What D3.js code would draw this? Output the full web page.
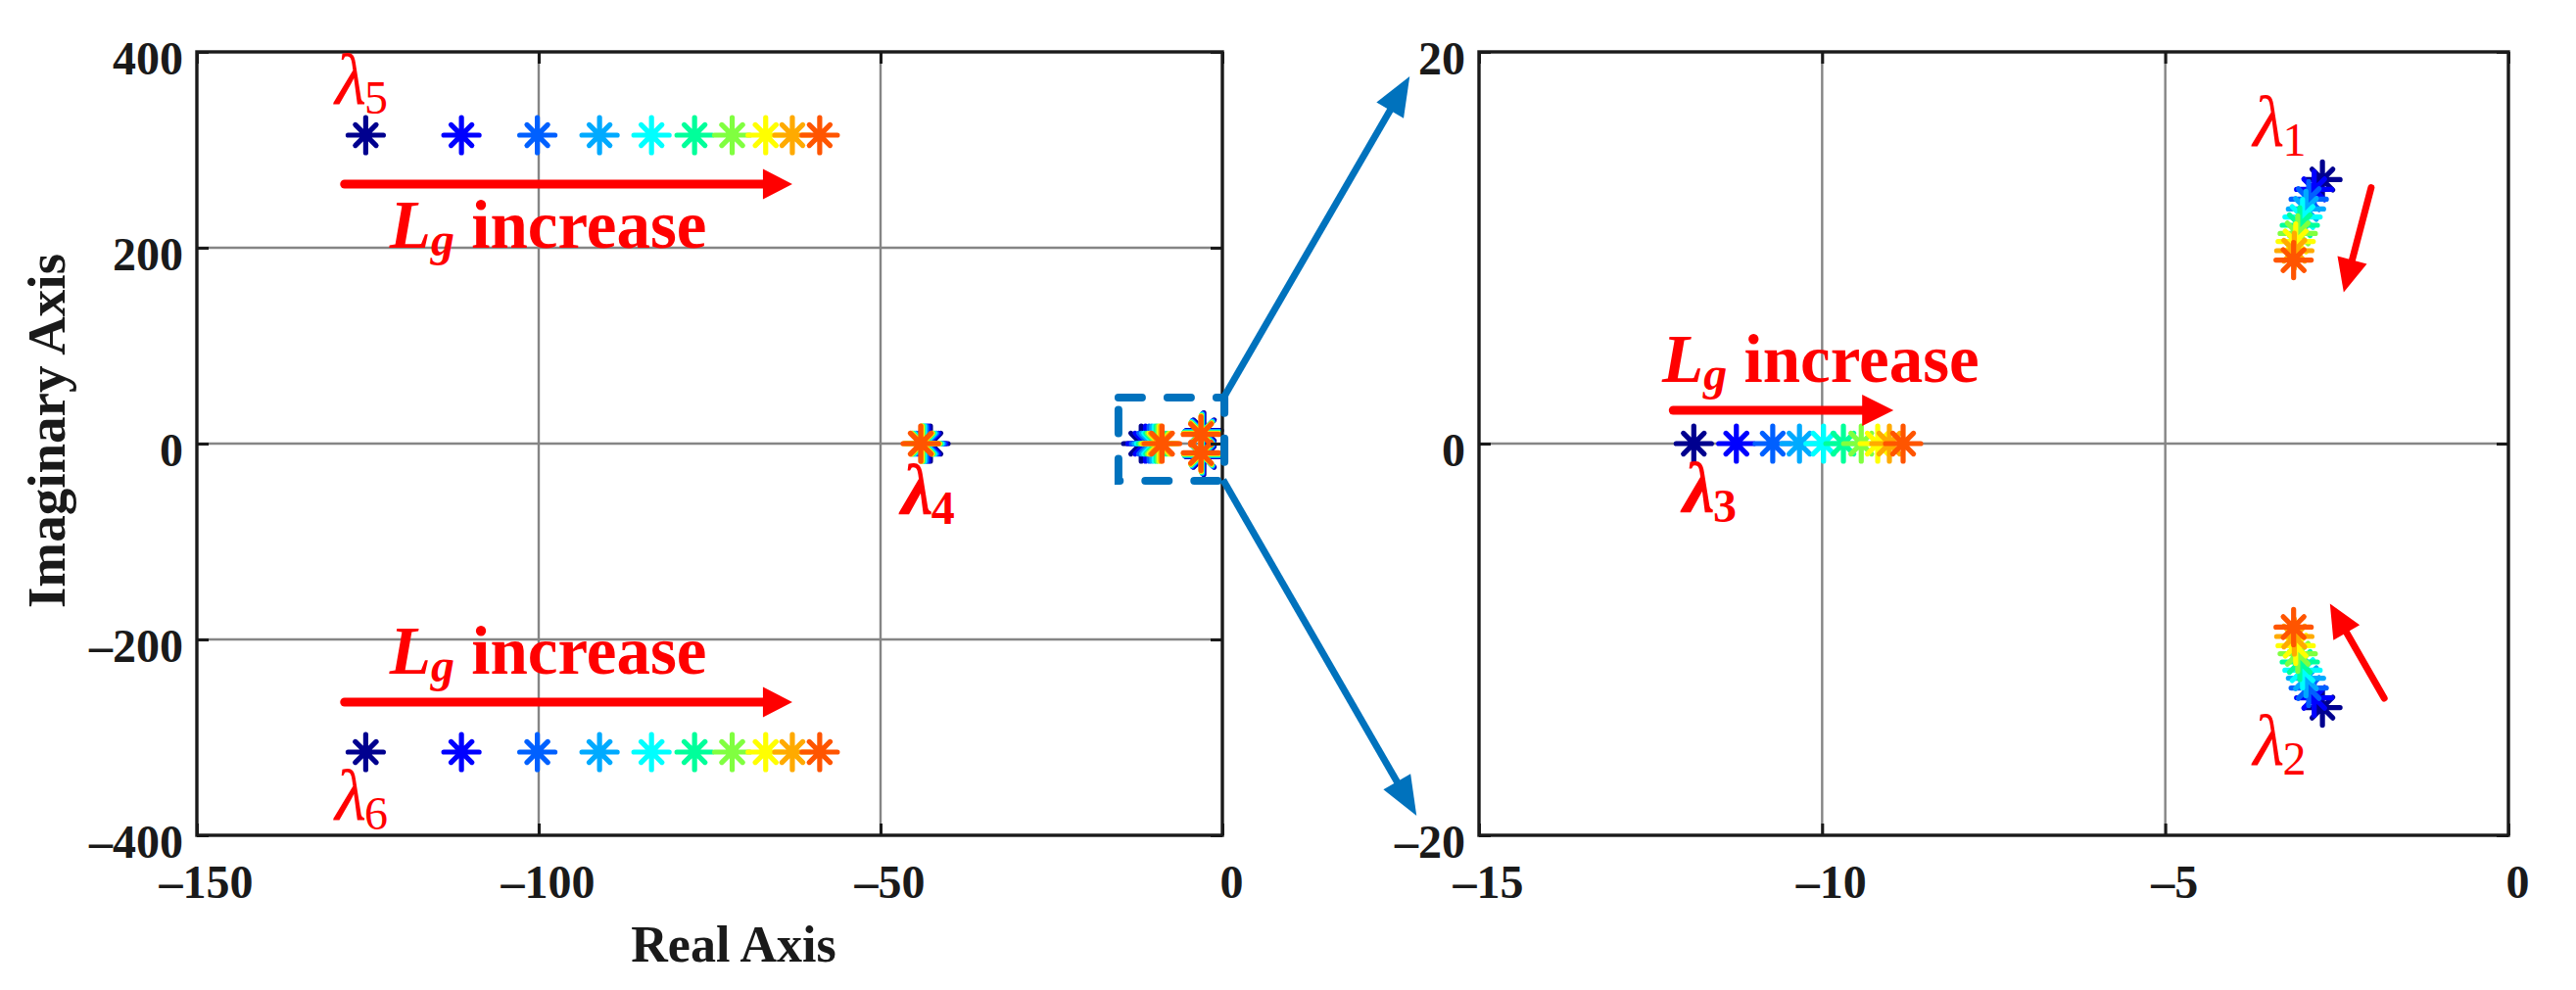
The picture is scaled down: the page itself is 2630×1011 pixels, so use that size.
<!DOCTYPE html>
<html>
<head>
<meta charset="utf-8">
<script src="https://cdn.jsdelivr.net/npm/d3@7"></script>
<style>
  html, body { margin: 0; padding: 0; background: #fff; }
  svg { display: block; }
</style>
</head>
<body>
<script>
// ---------------- DATA ----------------
// 10 increasing values of Lg, one colour each (jet-like map)
const stepColors = ["#00008f", "#0000ff", "#0060ff", "#00aaff", "#00ffff",
                    "#00ff9a", "#80ff40", "#ffff00", "#ffaa00", "#ff5500"];

// eigenvalue trajectories (real, imaginary)
const lambda1Re = [-2.71, -2.83, -2.91, -2.95, -3.00, -3.04, -3.07, -3.10, -3.12, -3.13];
const lambda1Im = [13.48, 12.98, 12.48, 11.98, 11.57, 11.15, 10.73, 10.32, 9.85, 9.37];
const lambda2Re = [-2.71, -2.83, -2.91, -2.95, -3.00, -3.04, -3.07, -3.10, -3.12, -3.13];
const lambda2Im = [-13.48, -12.98, -12.48, -11.98, -11.57, -11.15, -10.73, -10.32, -9.85, -9.37];
const lambda3Re = [-11.87, -11.25, -10.72, -10.33, -9.98, -9.69, -9.43, -9.19, -9.02, -8.82];
const lambda3Im = [0, 0, 0, 0, 0, 0, 0, 0, 0, 0];
const lambda4Re = [-42.7, -43.0, -43.25, -43.45, -43.6, -43.75, -43.85, -43.95, -44.05, -44.13];
const lambda4Im = [0, 0, 0, 0, 0, 0, 0, 0, 0, 0];
const lambda5Re = [-125.3, -111.3, -100.2, -91.1, -83.5, -77.2, -71.7, -66.8, -62.9, -58.9];
const lambda5Im = [315, 315, 315, 315, 315, 315, 315, 315, 315, 315];
const lambda6Re = [-125.3, -111.3, -100.2, -91.1, -83.5, -77.2, -71.7, -66.8, -62.9, -58.9];
const lambda6Im = [-315, -315, -315, -315, -315, -315, -315, -315, -315, -315];

// axis ticks
const leftXTicks = [-150, -100, -50, 0];
const leftYTicks = [-400, -200, 0, 200, 400];
const rightXTicks = [-15, -10, -5, 0];
const rightYTicks = [-20, 0, 20];

const xLabel = "Real Axis";
const yLabel = "Imaginary Axis";

// ---------------- LAYOUT ----------------
const W = 2630, H = 1011;
const SERIF = "'Liberation Serif','Times New Roman',Times,serif";
const plotTop = 53, plotBottom = 853;

const xL = d3.scaleLinear().domain([-150, 0]).range([201, 1248]);
const yL = d3.scaleLinear().domain([-400, 400]).range([plotBottom, plotTop]);
const xR = d3.scaleLinear().domain([-15, 0]).range([1510, 2561]);
const yR = d3.scaleLinear().domain([-20, 20]).range([plotBottom, plotTop]);

const svg = d3.select("body").append("svg")
  .attr("width", W).attr("height", H)
  .attr("viewBox", `0 0 ${W} ${H}`);
svg.append("rect").attr("width", W).attr("height", H).attr("fill", "#fff");

const series = [
  {re: lambda1Re, im: lambda1Im},
  {re: lambda2Re, im: lambda2Im},
  {re: lambda3Re, im: lambda3Im},
  {re: lambda4Re, im: lambda4Im},
  {re: lambda5Re, im: lambda5Im},
  {re: lambda6Re, im: lambda6Im}
];
// flatten: draw each Lg step in order so later steps sit on top
const points = [];
for (let k = 0; k < stepColors.length; k++) {
  series.forEach(s => points.push({re: s.re[k], im: s.im[k], c: stepColors[k]}));
}

const fmt = d => d < 0 ? "\u2013" + Math.abs(d) : String(d);
const star = "M-18,0H18M0,-18V18M-10.6,-10.6L10.6,10.6M-10.6,10.6L10.6,-10.6";

function panel(x, y, xt, yt) {
  const g = svg.append("g");
  const [x0, x1] = x.range();
  const y0 = y.range()[1], y1 = y.range()[0];
  // grid
  g.append("g").selectAll("line").data(xt.filter(t => t !== x.domain()[0] && t !== x.domain()[1]))
    .join("line").attr("x1", d => x(d)).attr("x2", d => x(d)).attr("y1", y0).attr("y2", y1)
    .attr("stroke", "#858585").attr("stroke-width", 2.4);
  g.append("g").selectAll("line").data(yt.filter(t => t !== y.domain()[0] && t !== y.domain()[1]))
    .join("line").attr("y1", d => y(d)).attr("y2", d => y(d)).attr("x1", x0).attr("x2", x1)
    .attr("stroke", "#858585").attr("stroke-width", 2.4);

  // markers
  const [dx0, dx1] = x.domain(), [dy0, dy1] = y.domain();
  g.append("g").selectAll("path")
    .data(points.filter(p => p.re >= dx0 && p.re <= dx1 && p.im >= dy0 && p.im <= dy1))
    .join("path")
    .attr("d", star)
    .attr("transform", p => `translate(${x(p.re)},${y(p.im)})`)
    .attr("fill", "none").attr("stroke", p => p.c)
    .attr("stroke-width", 5.2).attr("stroke-linecap", "round");

  // axes (inward ticks)
  const styleAxis = sel => {
    sel.select(".domain").remove();
    sel.selectAll(".tick line").attr("stroke", "#1a1a1a").attr("stroke-width", 3);
    sel.selectAll("text").attr("font-family", SERIF).attr("font-weight", "bold")
      .attr("font-size", 48).attr("fill", "#1a1a1a");
  };
  g.append("g").attr("transform", `translate(0,${y1})`)
    .call(d3.axisBottom(x).tickValues(xt).tickSize(-12).tickFormat(fmt))
    .call(styleAxis)
    .call(s => s.selectAll("text").attr("y", 64).attr("dy", 0).attr("dx", 9));
  g.append("g").attr("transform", `translate(0,${y0})`)
    .call(d3.axisTop(x).tickValues(xt).tickSize(-12).tickFormat(""))
    .call(styleAxis);
  g.append("g").attr("transform", `translate(${x0},0)`)
    .call(d3.axisLeft(y).tickValues(yt).tickSize(-12).tickPadding(14).tickFormat(fmt))
    .call(styleAxis)
    .call(s => s.selectAll("text").attr("dy", 22));
  g.append("g").attr("transform", `translate(${x1},0)`)
    .call(d3.axisRight(y).tickValues(yt).tickSize(-12).tickFormat(""))
    .call(styleAxis);

  // frame
  g.append("rect").attr("x", x0).attr("y", y0).attr("width", x1 - x0).attr("height", y1 - y0)
    .attr("fill", "none").attr("stroke", "#1a1a1a").attr("stroke-width", 3.4);
  return g;
}

panel(xL, yL, leftXTicks, leftYTicks);
panel(xR, yR, rightXTicks, rightYTicks);

// axis labels (left panel only)
svg.append("text").attr("x", 749).attr("y", 982).attr("text-anchor", "middle")
  .attr("font-family", SERIF).attr("font-weight", "bold").attr("font-size", 52)
  .attr("fill", "#1a1a1a").text(xLabel);
svg.append("text").attr("transform", "translate(66,440) rotate(-90)").attr("text-anchor", "middle")
  .attr("font-family", SERIF).attr("font-weight", "bold").attr("font-size", 55)
  .attr("fill", "#1a1a1a").text(yLabel);

// ---------------- ANNOTATIONS ----------------
const ann = svg.append("g");

function arrow(px1, py1, px2, py2, w, hl, hw, color, cap) {
  const dx = px2 - px1, dy = py2 - py1, L = Math.hypot(dx, dy);
  const ux = dx / L, uy = dy / L, nx = -uy, ny = ux;
  const bx = px2 - ux * hl, by = py2 - uy * hl;
  ann.append("line").attr("x1", px1).attr("y1", py1)
    .attr("x2", bx + ux * 2).attr("y2", by + uy * 2)
    .attr("stroke", color).attr("stroke-width", w).attr("stroke-linecap", cap || "round");
  ann.append("path")
    .attr("d", `M${px2},${py2}L${bx + nx * hw / 2},${by + ny * hw / 2}L${bx - nx * hw / 2},${by - ny * hw / 2}Z`)
    .attr("fill", color);
}

function lgText(px, py) {
  const t = ann.append("text").attr("x", px).attr("y", py)
    .attr("font-family", SERIF).attr("font-weight", "bold").attr("font-size", 69).attr("fill", "#ff0000");
  t.append("tspan").attr("font-style", "italic").text("L");
  t.append("tspan").attr("font-style", "italic").attr("font-size", 48).attr("dy", 8).text("g");
  t.append("tspan").attr("dy", -8).text(" increase");
}

function lamText(px, py, sub, bold) {
  const t = ann.append("text").attr("x", px).attr("y", py)
    .attr("font-family", SERIF).attr("font-weight", bold ? "bold" : "normal")
    .attr("font-size", 74).attr("fill", "#ff0000");
  t.append("tspan").attr("font-style", "italic").text("\u03bb");
  t.append("tspan").attr("font-size", 48).attr("dy", 10).attr("dx", -2).text(sub);
}

// left panel
arrow(xL(-128.4), yL(265), xL(-62.9), yL(265), 9, 30, 31, "#ff0000");
arrow(xL(-128.4), yL(-264), xL(-62.9), yL(-264), 9, 30, 31, "#ff0000");
lgText(xL(-121.8), yL(200));
lgText(xL(-121.8), yL(-235));
lamText(xL(-129.8), yL(347), "5", false);
lamText(xL(-129.8), yL(-384), "6", false);
lamText(xL(-47.0), yL(-72), "4", true);

// right panel
arrow(xR(-12.17), yR(1.7), xR(-8.96), yR(1.7), 9, 32, 32, "#ff0000");
lgText(xR(-12.33), yR(3.15));
lamText(xR(-12.03), yR(-3.5), "3", true);
lamText(xR(-3.72), yR(15.2), "1", false);
lamText(xR(-3.72), yR(-16.4), "2", false);
arrow(xR(-2.0), yR(13.07), xR(-2.40), yR(7.73), 7, 34, 31, "#ff0000");
arrow(xR(-1.81), yR(-13.0), xR(-2.60), yR(-8.18), 7, 34, 31, "#ff0000");

// zoom box and connecting arrows
const blue = "#0072bd";
ann.append("rect")
  .attr("x", xL(-15.2)).attr("y", yL(47))
  .attr("width", xL(0.3) - xL(-15.2)).attr("height", yL(-38) - yL(47))
  .attr("fill", "none").attr("stroke", blue).attr("stroke-width", 8)
  .attr("stroke-dasharray", "24,26").attr("stroke-linecap", "round");
arrow(xL(0.1), yL(46), xR(-16.01), yR(18.75), 7, 40, 32, blue, "butt");
arrow(xL(0.1), yL(-37), xR(-15.91), yR(-19.0), 7, 40, 32, blue, "butt");
</script>
</body>
</html>
